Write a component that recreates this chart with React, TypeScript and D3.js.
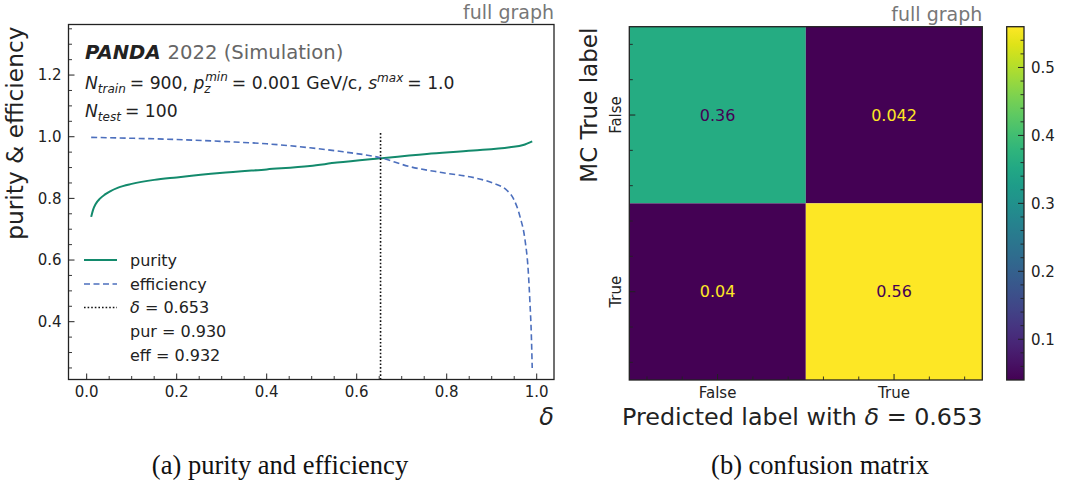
import * as React from "react";
import * as d3 from "d3";

// purity curve
const deltaPur = [0.01, 0.014, 0.02, 0.03, 0.04, 0.052, 0.07, 0.1, 0.15, 0.2, 0.296, 0.4, 0.496, 0.556, 0.652, 0.756, 0.859, 0.94, 0.97, 0.99];
const purity = [0.74, 0.762, 0.782, 0.8, 0.812, 0.823, 0.835, 0.847, 0.86, 0.868, 0.882, 0.894, 0.905, 0.916, 0.93, 0.944, 0.955, 0.966, 0.973, 0.985];

// efficiency curve
const deltaEff = [0.01, 0.1, 0.2, 0.311, 0.4, 0.496, 0.57, 0.652, 0.718, 0.792, 0.867, 0.904, 0.933, 0.948, 0.963, 0.974, 0.981, 0.985, 0.988, 0.99];
const efficiency = [0.998, 0.995, 0.991, 0.984, 0.977, 0.964, 0.951, 0.932, 0.903, 0.883, 0.865, 0.849, 0.827, 0.8, 0.74, 0.665, 0.568, 0.46, 0.36, 0.25];

const bestDelta = 0.653;
const xTicks = [0, 0.2, 0.4, 0.6, 0.8, 1.0];
const yTicks = [0.4, 0.6, 0.8, 1.0, 1.2];
const legendLabels = ["purity", "efficiency", "δ = 0.653", "pur = 0.930", "eff = 0.932"];

// confusion matrix (rows: MC true, cols: predicted)
const cmLabels = ["False", "True"];
const cmValues = [
  [0.36, 0.042],
  [0.04, 0.56],
];
const cbTicks = [0.1, 0.2, 0.3, 0.4, 0.5];

const FONT = "DejaVu Sans";
const INK = "#222";
const PUR_COLOR = "#138a6c";
const EFF_COLOR = "#4c6fbd";

export default function App() {
  // left panel
  const L = { left: 68.5, right: 554, top: 24.5, bottom: 379.5 };
  const x = d3.scaleLinear().domain([-0.0404, 1.0384]).range([L.left, L.right]);
  const y = d3.scaleLinear().domain([0.2125, 1.364]).range([L.bottom, L.top]);

  const line = d3.line<[number, number]>()
    .x(d => x(d[0]))
    .y(d => y(d[1]))
    .curve(d3.curveMonotoneX);
  const purPath = line(deltaPur.map((d, i) => [d, purity[i]]));
  const effPath = line(deltaEff.map((d, i) => [d, efficiency[i]]));

  const xMinor = d3.range(0, 21).map(i => i * 0.05).filter(v => Math.abs(v * 5 - Math.round(v * 5)) > 1e-6);
  const yMinor = d3.range(5, 28).map(i => i * 0.05).filter(v => Math.abs(v * 5 - Math.round(v * 5)) > 1e-6 && y(v) < L.bottom && y(v) > L.top);

  // right panel
  const R = { left: 629.3, right: 982.3, top: 26.7, bottom: 380 };
  const cx = d3.scaleLinear().domain([-0.5, 1.5]).range([R.left, R.right]);
  const cy = d3.scaleLinear().domain([-0.5, 1.5]).range([R.top, R.bottom]);
  const flat = cmValues.flat();
  const [vmin, vmax] = d3.extent(flat) as [number, number];
  const color = d3.scaleSequential(d3.interpolateViridis).domain([vmin, vmax]);
  const thresh = (vmin + vmax) / 2;
  const cmMinor = [-0.4, -0.2, 0.2, 0.4, 0.6, 0.8, 1.2, 1.4];

  const CB = { left: 1006.7, right: 1024, top: 26.7, bottom: 380 };
  const cb = d3.scaleLinear().domain([vmin, vmax]).range([CB.bottom, CB.top]);
  const cbMinor = d3.range(3, 28).map(i => i * 0.02).filter(v => v >= vmin && v <= vmax && Math.abs(v * 10 - Math.round(v * 10)) > 1e-6);
  const gradStops = d3.range(0, 1.0001, 0.05);

  const legendY = [260, 284, 307.5, 331.5, 355.5];

  return (
    <svg width={1065} height={491} style={{ position: "absolute", left: 0, top: 0, background: "#fff" }} fontFamily={FONT}>
      <defs>
        <linearGradient id="viridis" x1="0" y1="1" x2="0" y2="0">
          {gradStops.map(t => (
            <stop key={t} offset={t} stopColor={d3.interpolateViridis(t)} />
          ))}
        </linearGradient>
      </defs>

      {/* ---------- left: purity & efficiency ---------- */}
      <text x={L.right} y={19} textAnchor="end" fontSize={19} fill="#777">full graph</text>

      <path d={purPath || ""} fill="none" stroke={PUR_COLOR} strokeWidth={2} />
      <path d={effPath || ""} fill="none" stroke={EFF_COLOR} strokeWidth={1.6} strokeDasharray="6,3.5" />
      <line x1={x(bestDelta)} x2={x(bestDelta)} y1={L.bottom} y2={y(1.018)} stroke="#111" strokeWidth={1.6} strokeDasharray="1.6,2" />

      {/* ticks */}
      {xTicks.map(t => (
        <g key={"xt" + t}>
          <line x1={x(t)} x2={x(t)} y1={L.bottom} y2={L.bottom - 6} stroke={INK} strokeWidth={1} />
          <text x={x(t)} y={397} textAnchor="middle" fontSize={15} fill={INK}>{t.toFixed(1)}</text>
        </g>
      ))}
      {xMinor.map(t => (
        <line key={"xm" + t} x1={x(t)} x2={x(t)} y1={L.bottom} y2={L.bottom - 3.5} stroke={INK} strokeWidth={0.9} />
      ))}
      {yTicks.map(t => (
        <g key={"yt" + t}>
          <line x1={L.left} x2={L.left + 6} y1={y(t)} y2={y(t)} stroke={INK} strokeWidth={1} />
          <text x={61.5} y={y(t)} dy="0.36em" textAnchor="end" fontSize={15} fill={INK}>{t.toFixed(1)}</text>
        </g>
      ))}
      {yMinor.map(t => (
        <line key={"ym" + t} x1={L.left} x2={L.left + 3.5} y1={y(t)} y2={y(t)} stroke={INK} strokeWidth={0.9} />
      ))}
      <rect x={L.left} y={L.top} width={L.right - L.left} height={L.bottom - L.top} fill="none" stroke={INK} strokeWidth={1.3} />

      {/* axis labels */}
      <text transform={`translate(23,${L.top + 2}) rotate(-90)`} textAnchor="end" fontSize={23.3} fill={INK}>purity &amp; efficiency</text>
      <text x={L.right} y={425} textAnchor="end" fontSize={24} fontStyle="italic" fill={INK}>δ</text>

      {/* header text */}
      <text x={85} y={59} fontSize={19.6} fill={INK}>
        <tspan fontWeight="bold" fontStyle="italic">PANDA</tspan>
        <tspan fill="#666" dx={7}>2022 (Simulation)</tspan>
      </text>
      <text x={85} y={89} fontSize={17.2} fill={INK}>
        <tspan fontStyle="italic">N</tspan>
        <tspan fontStyle="italic" fontSize={12} dy={4}>train</tspan>
        <tspan dy={-4} dx={4}>= 900, </tspan>
        <tspan fontStyle="italic">p</tspan>
        <tspan fontStyle="italic" fontSize={12} dy={4}>z</tspan>
        <tspan fontStyle="italic" fontSize={12} dy={-12} dx={-5.5}>min</tspan>
        <tspan dy={8} dx={4}>= 0.001 GeV/c, </tspan>
        <tspan fontStyle="italic">s</tspan>
        <tspan fontStyle="italic" fontSize={12} dy={-7.5}>max</tspan>
        <tspan dy={7.5} dx={4}>= 1.0</tspan>
      </text>
      <text x={85} y={117} fontSize={17.2} fill={INK}>
        <tspan fontStyle="italic">N</tspan>
        <tspan fontStyle="italic" fontSize={12} dy={4}>test</tspan>
        <tspan dy={-4} dx={4}>= 100</tspan>
      </text>

      {/* legend */}
      <line x1={84} x2={117} y1={legendY[0]} y2={legendY[0]} stroke={PUR_COLOR} strokeWidth={2} />
      <line x1={84} x2={117} y1={legendY[1]} y2={legendY[1]} stroke={EFF_COLOR} strokeWidth={1.6} strokeDasharray="6,3.5" />
      <line x1={84} x2={117} y1={legendY[2]} y2={legendY[2]} stroke="#111" strokeWidth={1.6} strokeDasharray="1.6,2" />
      {legendLabels.map((lab, i) => (
        <text key={lab} x={130} y={legendY[i]} dy="0.35em" fontSize={16} fill={INK}>
          {i === 2 ? (<><tspan fontStyle="italic">δ</tspan>{lab.slice(1)}</>) : lab}
        </text>
      ))}

      {/* ---------- right: confusion matrix ---------- */}
      <text x={R.right} y={21} textAnchor="end" fontSize={19} fill="#777">full graph</text>

      {cmValues.map((row, i) =>
        row.map((v, j) => (
          <g key={`c${i}${j}`}>
            <rect x={cx(j - 0.5)} y={cy(i - 0.5)} width={cx(j + 0.5) - cx(j - 0.5)} height={cy(i + 0.5) - cy(i - 0.5)} fill={color(v)} />
            <text x={cx(j)} y={cy(i)} dy="0.36em" textAnchor="middle" fontSize={16} fill={v > thresh ? color(vmin) : color(vmax)}>{v}</text>
          </g>
        ))
      )}
      {cmLabels.map((lab, k) => (
        <g key={"cl" + lab}>
          <line x1={cx(k)} x2={cx(k)} y1={R.bottom} y2={R.bottom - 6} stroke={INK} strokeWidth={1} />
          <line x1={R.left} x2={R.left + 6} y1={cy(k)} y2={cy(k)} stroke={INK} strokeWidth={1} />
          <text x={cx(k)} y={398} textAnchor="middle" fontSize={15} fill={INK}>{lab}</text>
          <text transform={`translate(620.5,${cy(k)}) rotate(-90)`} textAnchor="middle" fontSize={15} fill={INK}>{lab}</text>
        </g>
      ))}
      {cmMinor.map(t => (
        <g key={"cm" + t}>
          <line x1={cx(t)} x2={cx(t)} y1={R.bottom} y2={R.bottom - 3.5} stroke={INK} strokeWidth={0.9} />
          <line x1={R.left} x2={R.left + 3.5} y1={cy(t)} y2={cy(t)} stroke={INK} strokeWidth={0.9} />
        </g>
      ))}
      <rect x={R.left} y={R.top} width={R.right - R.left} height={R.bottom - R.top} fill="none" stroke={INK} strokeWidth={1.3} />
      <text transform={`translate(597,${R.top + 1}) rotate(-90)`} textAnchor="end" fontSize={23} fill={INK}>MC True label</text>
      <text x={R.right} y={425} textAnchor="end" fontSize={23.8} fill={INK}>
        Predicted label with <tspan fontStyle="italic">δ</tspan> = 0.653
      </text>

      {/* colorbar */}
      <rect x={CB.left} y={CB.top} width={CB.right - CB.left} height={CB.bottom - CB.top} fill="url(#viridis)" />
      {cbTicks.map(t => (
        <g key={"cb" + t}>
          <line x1={CB.right} x2={CB.right - 6} y1={cb(t)} y2={cb(t)} stroke={INK} strokeWidth={1} />
          <text x={1031} y={cb(t)} dy="0.36em" fontSize={15} fill={INK}>{t.toFixed(1)}</text>
        </g>
      ))}
      {cbMinor.map(t => (
        <line key={"cbm" + t} x1={CB.right} x2={CB.right - 3.5} y1={cb(t)} y2={cb(t)} stroke={INK} strokeWidth={0.9} />
      ))}
      <rect x={CB.left} y={CB.top} width={CB.right - CB.left} height={CB.bottom - CB.top} fill="none" stroke={INK} strokeWidth={1.3} />

      {/* captions */}
      <text x={280} y={474} textAnchor="middle" fontSize={26.5} fontFamily="Liberation Serif" fill="#111">(a)  purity and efficiency</text>
      <text x={820} y={474} textAnchor="middle" fontSize={26.5} fontFamily="Liberation Serif" fill="#111">(b)  confusion matrix</text>
    </svg>
  );
}
